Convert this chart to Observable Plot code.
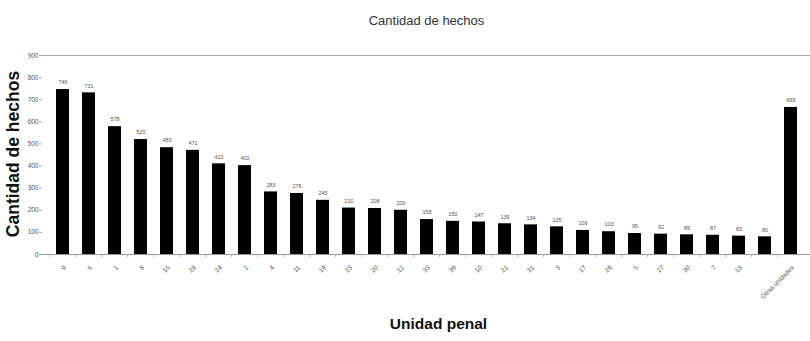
<!DOCTYPE html>
<html>
<head>
<meta charset="utf-8">
<script src="https://cdn.jsdelivr.net/npm/d3@7"></script>
<script src="https://cdn.jsdelivr.net/npm/@observablehq/plot@0.6"></script>
<style>
  html, body { margin: 0; padding: 0; background: #fff; }
  #chart svg { display: block; }
</style>
</head>
<body>
<div id="chart"></div>
<script>
// Cantidad de hechos por unidad penal
const unidades = ["9", "6", "1", "8", "15", "28", "24", "2", "4", "11", "19", "23", "20", "12",
  "33", "39", "10", "21", "31", "3", "17", "29", "5", "27", "30", "7", "13", "14", "Otras unidades"];
const hechos = [746, 731, 578, 520, 483, 471, 410, 402, 283, 276, 245, 210, 208, 200,
  158, 150, 147, 139, 134, 125, 109, 103, 95, 92, 89, 87, 83, 80, 665];
const yTicks = [0, 100, 200, 300, 400, 500, 600, 700, 800, 900];
const hiddenTick = "14";

const rows = unidades.map((u, i) => ({unidad: u, hechos: hechos[i]}));

const W = 810, H = 341;
const chart = Plot.plot({
  width: W,
  height: H,
  marginTop: 55,
  marginBottom: 87,
  marginLeft: 42,
  marginRight: 0,
  style: {fontFamily: "Liberation Sans, Arial, sans-serif", background: "#fff"},
  x: {type: "band", domain: unidades, paddingInner: 0.5, paddingOuter: 0.25, axis: null},
  y: {type: "linear", domain: [0, 900], axis: null},
  marks: [
    // frame lines
    Plot.ruleY([900], {stroke: "#aaa", strokeWidth: 1}),
    Plot.ruleY([0], {stroke: "#999", strokeWidth: 1}),
    Plot.ruleX([0], {frameAnchor: "left", y1: 0, y2: 900, stroke: "#aaa", strokeWidth: 1}),
    // y axis
    Plot.axisY(yTicks, {
      tickSize: 3, tickPadding: 1, fontSize: 6.5, fill: "#555", stroke: "#aaa", label: null
    }),
    // tick marks between categories
    Plot.ruleX(unidades, {x: d => d, dx: -13.3, y1: 0, y2: 0, insetBottom: -3,
      stroke: "#aaa", strokeWidth: 1}),
    // bars
    Plot.barY(rows, {x: "unidad", y: "hechos", fill: "#000"}),
    // value labels
    Plot.text(rows, {x: "unidad", y: "hechos", text: d => String(d.hechos), dy: -7,
      fontSize: 5.5, fill: "#555"}),
    // category labels
    Plot.text(rows, {
      x: "unidad", y: 0,
      text: d => d.unidad === hiddenTick ? "" : d.unidad,
      rotate: -45, textAnchor: "end", dy: 12, dx: 2, fontSize: 6.5, fill: "#555"
    }),
    // chart title
    Plot.text(["Cantidad de hechos"], {
      frameAnchor: "top", dy: -40, fontSize: 13, fill: "#333",
      fontFamily: "Liberation Sans Narrow, Arial Narrow, sans-serif"
    }),
    // y axis title
    Plot.text(["Cantidad de hechos"], {
      frameAnchor: "left", textAnchor: "middle", dx: -29, dy: -1, rotate: -90,
      fontSize: 17.5, fontWeight: "bold", fill: "#111", letterSpacing: 0.6
    }),
    // x axis title
    Plot.text(["Unidad penal"], {
      frameAnchor: "bottom", dy: 74, dx: 12, fontSize: 15.5, fontWeight: "bold", fill: "#111"
    })
  ]
});
document.getElementById("chart").appendChild(chart);
</script>
</body>
</html>
